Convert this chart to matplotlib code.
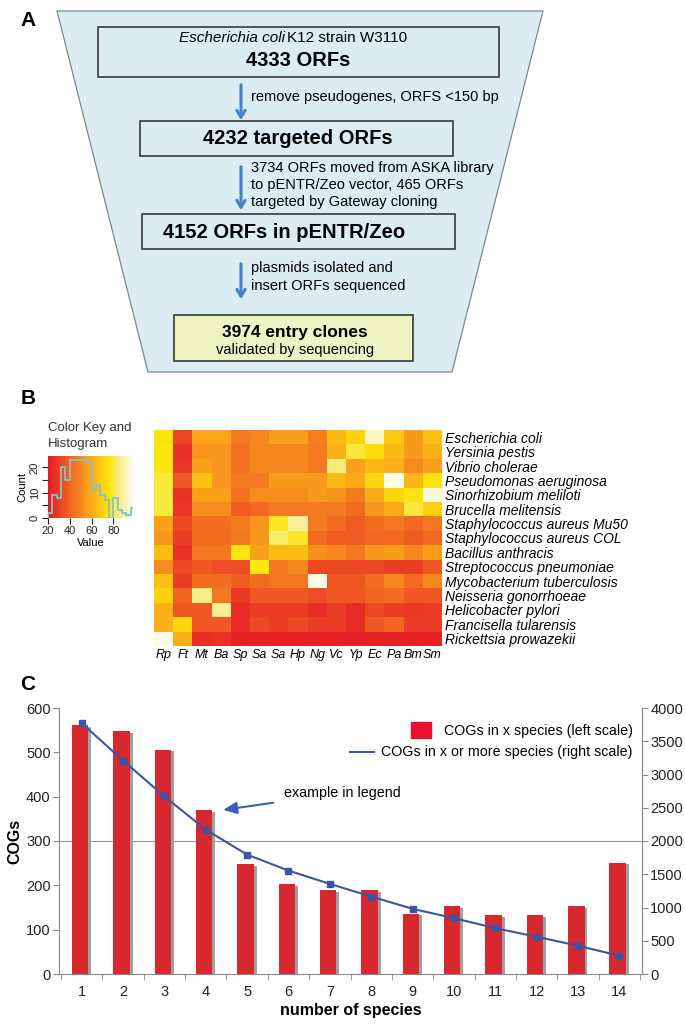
import matplotlib
matplotlib.use('Agg')
import matplotlib.pyplot as plt
import numpy as np
from matplotlib.colors import LinearSegmentedColormap
from matplotlib.patches import Polygon, Rectangle
from matplotlib.lines import Line2D

plt.rcParams['font.family'] = ['Liberation Sans', 'DejaVu Sans']

W, H = 685, 1027

# ---- panel A: cloning pipeline ----
box_titles = ['4333 ORFs', '4232 targeted ORFs', '4152 ORFs in pENTR/Zeo', '3974 entry clones']
step_notes = [
    ['remove pseudogenes, ORFS <150 bp'],
    ['3734 ORFs moved from ASKA library', 'to pENTR/Zeo vector, 465 ORFs', 'targeted by Gateway cloning'],
    ['plasmids isolated and', 'insert ORFs sequenced'],
]

# ---- panel B: heatmap ----
species = ['Escherichia coli', 'Yersinia pestis', 'Vibrio cholerae', 'Pseudomonas aeruginosa',
           'Sinorhizobium meliloti', 'Brucella melitensis', 'Staphylococcus aureus Mu50',
           'Staphylococcus aureus COL', 'Bacillus anthracis', 'Streptococcus pneumoniae',
           'Mycobacterium tuberculosis', 'Neisseria gonorrhoeae', 'Helicobacter pylori',
           'Francisella tularensis', 'Rickettsia prowazekii']
abbrev = ['Rp', 'Ft', 'Mt', 'Ba', 'Sp', 'Sa', 'Sa', 'Hp', 'Ng', 'Vc', 'Yp', 'Ec', 'Pa', 'Bm', 'Sm']
similarity = np.array([
    [76, 32, 58, 58, 47, 50, 56, 56, 48, 64, 70, 92, 68, 55, 66],
    [77, 26, 54, 54, 44, 50, 50, 50, 47, 62, 80, 74, 64, 55, 62],
    [77, 28, 57, 54, 44, 50, 50, 50, 47, 84, 57, 63, 62, 51, 57],
    [80, 37, 66, 54, 47, 47, 55, 55, 55, 64, 59, 72, 97, 63, 76],
    [80, 27, 57, 57, 44, 51, 51, 51, 55, 53, 47, 59, 72, 76, 95],
    [80, 28, 51, 51, 38, 41, 47, 47, 47, 47, 42, 54, 59, 80, 70],
    [57, 33, 43, 43, 47, 54, 78, 88, 47, 42, 38, 43, 46, 41, 46],
    [54, 30, 43, 43, 46, 54, 83, 79, 42, 38, 38, 41, 42, 38, 41],
    [65, 27, 46, 46, 76, 57, 65, 65, 52, 50, 46, 54, 56, 50, 56],
    [51, 33, 37, 34, 34, 77, 46, 50, 33, 33, 33, 33, 30, 30, 37],
    [66, 30, 43, 43, 38, 42, 46, 46, 97, 37, 37, 42, 50, 42, 50],
    [70, 40, 85, 46, 28, 37, 37, 37, 34, 37, 37, 40, 42, 37, 37],
    [62, 37, 37, 87, 25, 30, 30, 30, 25, 30, 25, 33, 30, 29, 30],
    [62, 72, 37, 37, 25, 33, 30, 33, 30, 30, 25, 37, 40, 30, 30],
    [97, 62, 25, 27, 22, 22, 22, 22, 22, 22, 22, 22, 22, 22, 22],
])
hist_edges = list(range(20, 101, 4))
hist_counts = [2, 9, 8, 20, 15, 23, 23, 23, 23, 22, 11, 13, 9, 7, 0, 8, 3, 2, 1, 4]

# ---- panel C: COG counts ----
n_species = list(range(1, 15))
cogs_in_x = [562, 548, 506, 369, 247, 203, 189, 189, 136, 154, 133, 132, 154, 251]
cogs_x_or_more = [3770, 3210, 2670, 2170, 1795, 1555, 1355, 1165, 980, 840, 690, 560, 425, 275]


def px(x0, y0, x1, y1):
    return [x0 / W, 1 - y1 / H, (x1 - x0) / W, (y1 - y0) / H]


fig = plt.figure(figsize=(W / 100, H / 100), dpi=100)

ax0 = fig.add_axes([0, 0, 1, 1])
ax0.set_xlim(0, W)
ax0.set_ylim(H, 0)
ax0.axis('off')

# funnel
ax0.add_patch(Polygon([(57, 11), (543, 11), (452, 372), (148, 372)], closed=True,
                      facecolor='#dbecf3', edgecolor='#7a8a90', lw=0.9))

boxes = [(98, 27, 499, 77), (140, 121, 453, 156), (142, 214, 455, 249), (174, 315, 413, 361)]
fills = ['#dbecf3', '#dbecf3', '#dbecf3', '#eef3c4']
for (x0, y0, x1, y1), fc in zip(boxes, fills):
    ax0.add_patch(Rectangle((x0, y0), x1 - x0, y1 - y0, facecolor=fc, edgecolor='#2a2a2a', lw=1.1))

ax0.text(285, 38, 'Escherichia coli', fontsize=11, style='italic', ha='right', va='center')
ax0.text(287, 38, 'K12 strain W3110', fontsize=11, ha='left', va='center')
ax0.text(298, 60, box_titles[0], fontsize=14.5, fontweight='bold', ha='center', va='center')
ax0.text(298, 138, box_titles[1], fontsize=14.5, fontweight='bold', ha='center', va='center')
ax0.text(284, 233, box_titles[2], fontsize=14.5, fontweight='bold', ha='center', va='center')
ax0.text(295, 332, box_titles[3], fontsize=12.5, fontweight='bold', ha='center', va='center')
ax0.text(295, 350, 'validated by sequencing', fontsize=10.5, ha='center', va='center')

arrows = [(82, 123), (164, 213), (261, 302)]
note_y = [[97], [168, 185, 202], [268, 286]]
for (ya, yb), lines, ys in zip(arrows, step_notes, note_y):
    ax0.annotate('', xy=(241, yb), xytext=(241, ya),
                 arrowprops=dict(arrowstyle='->,head_length=0.5,head_width=0.3',
                                 color='#4a7fc0', lw=2.2))
    for t, y in zip(lines, ys):
        ax0.text(251, y, t, fontsize=10.5, ha='left', va='center')

ax0.text(28, 20, 'A', fontsize=15, fontweight='bold', ha='center', va='center')
ax0.text(28, 399, 'B', fontsize=15, fontweight='bold', ha='center', va='center')
ax0.text(28, 685, 'C', fontsize=15, fontweight='bold', ha='center', va='center')

# ---- panel B ----
heat = LinearSegmentedColormap.from_list('heatkey', [
    (0.0, '#e41e26'), (0.128, '#ec3d26'), (0.256, '#f26522'), (0.346, '#f47b20'),
    (0.436, '#f8981d'), (0.538, '#fbb116'), (0.641, '#fdd20f'), (0.731, '#fce60f'),
    (0.833, '#f8ed85'), (1.0, '#fefcf0')])
vmin, vmax = 20, 98

ax0.text(48, 428, 'Color Key and', fontsize=9.5, color='#333333', ha='left', va='center')
ax0.text(48, 444, 'Histogram', fontsize=9.5, color='#333333', ha='left', va='center')

axk = fig.add_axes(px(48, 456, 133, 518))
grad = np.linspace(vmin, vmax, 256)[None, :]
axk.imshow(grad, cmap=heat, vmin=vmin, vmax=vmax, aspect='auto',
           extent=(vmin, vmax, 0, 24.5), origin='lower')
axk.stairs(hist_counts, hist_edges, color='#86c3c3', lw=1.3)
axk.set_xlim(vmin, vmax)
axk.set_ylim(0, 24.5)
for s in axk.spines.values():
    s.set_visible(False)
axk.set_xticks([20, 40, 60, 80])
axk.set_yticks([0, 5, 10, 15, 20])
axk.set_yticklabels(['0', '', '10', '', '20'], rotation=90, va='center')
axk.tick_params(labelsize=8, length=4, width=0.8, pad=2, colors='#222222')
axk.set_xlabel('Value', fontsize=8, labelpad=1)
axk.set_ylabel('Count', fontsize=8, labelpad=2)

axh = fig.add_axes(px(154, 430, 442, 646))
axh.imshow(similarity, cmap=heat, vmin=vmin, vmax=vmax, aspect='auto',
           interpolation='nearest', extent=(0.5, 15.5, 15.5, 0.5))
for s in axh.spines.values():
    s.set_visible(False)
axh.set_xticks(range(1, 16))
axh.set_xticklabels(abbrev, style='italic', fontsize=9)
axh.yaxis.tick_right()
axh.set_yticks(range(1, 16))
axh.set_yticklabels(species, style='italic', fontsize=10)
axh.tick_params(length=0, pad=2)

# ---- panel C ----
axc = fig.add_axes(px(59, 708, 642, 974))
x = np.array(n_species)
h = np.array(cogs_in_x)
axc.bar(x + 0.03, h - 4, width=0.4, color='#a0a0a0', zorder=2)
axc.bar(x - 0.04, h, width=0.4, color='#d7282f', zorder=3)
axc.axhline(300, color='#9a9a9a', lw=0.8, zorder=1)
axc.set_xlim(0.45, 14.55)
axc.set_ylim(0, 600)
axc.set_yticks(range(0, 601, 100))
axc.set_xticks(n_species)
axc.set_xticks(np.arange(0.5, 15, 1), minor=True)
axc.tick_params(axis='x', which='major', length=0, pad=8)
axc.tick_params(axis='x', which='minor', length=4, color='#888888')
axc.tick_params(axis='y', length=4, color='#888888', pad=2)
axc.tick_params(labelsize=10.5, labelcolor='#222222')
axc.spines['top'].set_visible(False)
for s in ['left', 'bottom', 'right']:
    axc.spines[s].set_color('#888888')
axc.set_xlabel('number of species', fontsize=11.5, fontweight='bold', labelpad=3)
axc.set_ylabel('COGs', fontsize=11.5, fontweight='bold')
axc.yaxis.set_label_coords(-0.062, 0.5)

axr = axc.twinx()
axr.plot(x, cogs_x_or_more, color='#3a55a5', lw=1.5, marker='s', ms=4.5, zorder=4)
axr.set_ylim(0, 4000)
axr.set_yticks(range(0, 4001, 500))
axr.tick_params(axis='y', length=4, color='#888888', labelsize=10.5, labelcolor='#222222', pad=2)
for s in ['top', 'left', 'bottom']:
    axr.spines[s].set_visible(False)
axr.spines['right'].set_color('#888888')

# legend drawn by hand so the labels stay right-aligned
tr = axc.transAxes
axc.add_patch(Rectangle((0.604, 0.887), 0.034, 0.06, transform=tr, color='#e8112d',
                        zorder=5, clip_on=False))
axc.text(0.984, 0.912, 'COGs in x species (left scale)', transform=tr, fontsize=10.3,
         ha='right', va='center')
axc.add_line(Line2D([0.499, 0.540], [0.835, 0.835], transform=tr, color='#3a55a5', lw=1.5))
axc.text(0.984, 0.835, 'COGs in x or more species (right scale)', transform=tr,
         fontsize=10.3, ha='right', va='center')

axc.annotate('example in legend', xy=(4.42, 370), xytext=(5.9, 409), fontsize=10.3,
             ha='left', va='center', zorder=6,
             arrowprops=dict(arrowstyle='-|>,head_length=0.8,head_width=0.35',
                             color='#3a62ad', lw=1.5, shrinkA=6, shrinkB=0))

fig.savefig('out.png', dpi=100)
